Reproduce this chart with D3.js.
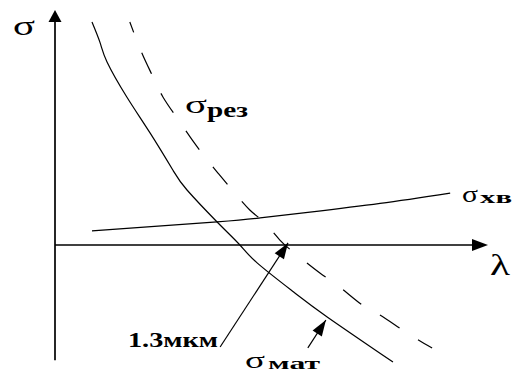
<!DOCTYPE html>
<html>
<head>
<meta charset="utf-8">
<script src="https://cdn.jsdelivr.net/npm/d3@7"></script>
<style>
  html, body { margin: 0; padding: 0; background: #fff; }
  svg { display: block; }
  text { font-family: "Liberation Serif", "Times New Roman", serif; fill: #000; }
</style>
</head>
<body>
<svg id="chart" width="513" height="374"></svg>
<script>
// Material dispersion σмат(λ): falls steeply, crosses zero near 1.3 µm
const matLambda = [8.6, 10.5, 12.1, 16.7, 22.1, 27.4, 30.7, 37.7, 43.0, 47.0, 55.5, 63.3, 78.6];
const matSigma  = [94.9, 86.0, 77.9, 63.0, 47.7, 31.9, 23.4, 9.8, 0, -7.6, -20.0, -30.6, -49.8];

// Resulting dispersion σрез(λ) = σмат + σхв
const rezLambda = [17.4, 20.2, 22.8, 25.1, 28.4, 31.9, 34.9, 37.9, 41.2, 45.3, 48.8, 52.3, 56.3, 61.6, 65.6, 71.4, 74.4, 81.9, 87.7];
const rezSigma  = [94.9, 81.7, 71.5, 63.0, 54.0, 44.7, 37.4, 30.6, 23.4, 14.9, 9.4, 2.1, -4.3, -11.9, -17.0, -25.5, -28.5, -37.4, -43.8];

// Waveguide dispersion σхв(λ): small, slowly growing
const xvLambda = [8.6, 37.7, 47.7, 59.3, 75.6, 91.9];
const xvSigma  = [6.0, 9.8, 11.5, 14.0, 17.7, 22.1];

// Pointer arrows: [λ, σ] of the tail and of the tip
const pointerFrom = [[38.4, -43.4], [58.8, -43.8]];
const pointerTo   = [[54.2, 0.9],   [63.0, -31.9]];

const svg = d3.select("#chart");
const x = d3.scaleLinear().domain([0, 100]).range([55, 485]);
const y = d3.scaleLinear().domain([0, 100]).range([245, 10]);

const zip = (a, b) => a.map((v, i) => [v, b[i]]);
const line = d3.line().x(d => x(d[0])).y(d => y(d[1])).curve(d3.curveNatural);

function arrowHead(g, x0, y0, x1, y1, len, half) {
  const dx = x1 - x0, dy = y1 - y0, L = Math.hypot(dx, dy);
  const ux = dx / L, uy = dy / L;
  const bx = x1 - ux * len, by = y1 - uy * len;
  g.append("path")
    .attr("d", `M${x1},${y1}L${bx - uy * half},${by + ux * half}L${bx + uy * half},${by - ux * half}Z`)
    .attr("fill", "#000");
}

// Axes
const axes = svg.append("g").attr("stroke", "#000").attr("stroke-width", 1.7);
axes.append("line").attr("x1", x(0)).attr("x2", x(0)).attr("y1", y(-49)).attr("y2", y(96));
axes.append("line").attr("x1", x(0)).attr("x2", x(97)).attr("y1", y(0)).attr("y2", y(0));
arrowHead(svg, x(0), y(50), x(0), y(100), 12, 6.5);
arrowHead(svg, x(50), y(0), x(100.7), y(0), 16, 6);

// Curves
svg.append("path").attr("d", line(zip(matLambda, matSigma)))
  .attr("fill", "none").attr("stroke", "#000").attr("stroke-width", 1.2);
svg.append("path").attr("d", line(zip(rezLambda, rezSigma)))
  .attr("fill", "none").attr("stroke", "#000").attr("stroke-width", 1.2)
  .attr("stroke-dasharray", "23,22").attr("stroke-dashoffset", 12);
svg.append("path").attr("d", line(zip(xvLambda, xvSigma)))
  .attr("fill", "none").attr("stroke", "#000").attr("stroke-width", 1.3);

// Pointer arrows
pointerFrom.forEach((f, i) => {
  const t = pointerTo[i];
  const x0 = x(f[0]), y0 = y(f[1]), x1 = x(t[0]), y1 = y(t[1]);
  svg.append("line").attr("x1", x0).attr("y1", y0).attr("x2", x1).attr("y2", y1)
    .attr("stroke", "#000").attr("stroke-width", 1.2);
  arrowHead(svg, x0, y0, x1, y1, 16, 5.5);
});

// Labels
function label(txt, px, py, size, width, weight) {
  svg.append("text").attr("x", px).attr("y", py)
    .attr("font-size", size).attr("font-weight", weight || "normal")
    .attr("textLength", width).attr("lengthAdjust", "spacingAndGlyphs")
    .text(txt);
}
label("σ", 13, 35, 28, 22);
label("λ", 490, 275, 30, 20);
label("σ", 185, 113, 26, 22);
label("рез", 207, 117, 22, 41, "bold");
label("σ", 462, 202, 24, 16);
label("хв", 480, 203, 17, 32, "bold");
label("σ", 245, 368, 24, 20);
label("мат", 268, 369, 17, 52, "bold");
label("1.3мкм", 128, 347, 20, 90, "bold");
</script>
</body>
</html>
